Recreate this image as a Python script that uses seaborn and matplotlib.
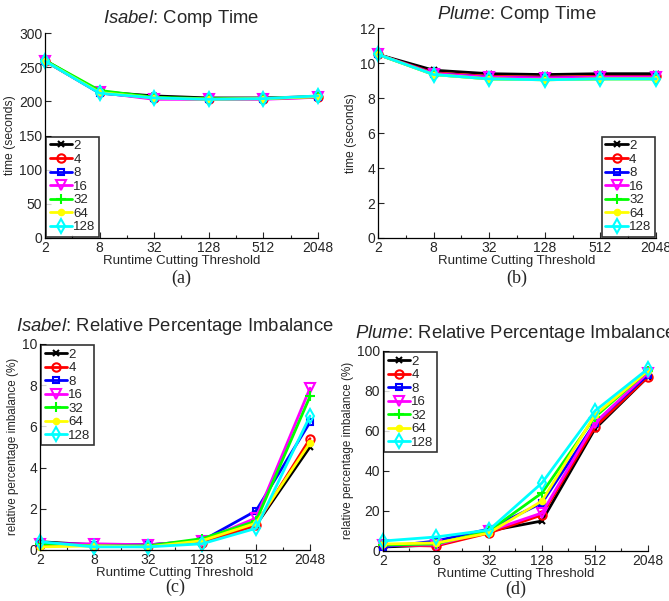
import numpy as np
import pandas as pd
import seaborn as sns
import matplotlib
matplotlib.use("Agg")
import matplotlib.pyplot as plt
from matplotlib.ticker import FixedLocator, NullFormatter
from matplotlib.transforms import offset_copy

thresholds = [2, 8, 32, 128, 512, 2048]
tick_labels = ["2", "8", "32", "128", "512", "2048"]
series_names = ["2", "4", "8", "16", "32", "64", "128"]

isabel_time = {
    "2":   [260, 214, 208, 205, 205, 207],
    "4":   [259, 213, 205, 203, 204, 206],
    "8":   [259, 212, 205, 203, 204, 207],
    "16":  [259, 213, 203, 203, 203, 206],
    "32":  [260, 216, 206, 204, 204, 207],
    "64":  [259, 213, 205, 203, 204, 207],
    "128": [259, 212, 205, 203, 204, 208],
}
plume_time = {
    "2":   [10.5, 9.60, 9.40, 9.35, 9.40, 9.40],
    "4":   [10.5, 9.45, 9.25, 9.20, 9.25, 9.25],
    "8":   [10.5, 9.40, 9.20, 9.15, 9.20, 9.20],
    "16":  [10.5, 9.40, 9.20, 9.15, 9.20, 9.20],
    "32":  [10.5, 9.35, 9.10, 9.05, 9.10, 9.10],
    "64":  [10.5, 9.35, 9.10, 9.05, 9.10, 9.10],
    "128": [10.5, 9.35, 9.10, 9.05, 9.10, 9.10],
}
isabel_imb = {
    "2":   [0.40, 0.25, 0.25, 0.40, 1.20, 5.0],
    "4":   [0.25, 0.20, 0.20, 0.35, 1.20, 5.4],
    "8":   [0.35, 0.25, 0.25, 0.45, 1.90, 6.2],
    "16":  [0.30, 0.30, 0.25, 0.45, 1.55, 7.85],
    "32":  [0.30, 0.20, 0.20, 0.55, 1.40, 7.45],
    "64":  [0.15, 0.20, 0.15, 0.45, 1.30, 5.2],
    "128": [0.40, 0.15, 0.15, 0.30, 1.05, 6.5],
}
plume_imb = {
    "2":   [2.0, 3.0, 10.0, 15.0, 61.0, 87.0],
    "4":   [3.0, 2.5, 9.0, 18.0, 62.0, 87.0],
    "8":   [2.0, 5.0, 11.0, 24.0, 64.0, 88.0],
    "16":  [3.0, 3.0, 10.0, 19.0, 64.0, 89.0],
    "32":  [3.0, 3.5, 10.0, 29.0, 67.0, 90.0],
    "64":  [3.5, 4.0, 9.0, 25.0, 68.0, 90.0],
    "128": [5.0, 7.0, 10.5, 34.0, 70.0, 91.0],
}

colors = {"2": "#000000", "4": "#ff0000", "8": "#0000ff", "16": "#ff00ff",
          "32": "#00ff00", "64": "#ffff00", "128": "#00ffff"}
markers = {"2": "x", "4": "o", "8": "s", "16": "v", "32": "+", "64": "o", "128": "d"}
filled = {"2": True, "4": False, "8": False, "16": False, "32": True, "64": True, "128": False}
msize = {"2": 5, "4": 6, "8": 5, "16": 7, "32": 7, "64": 4, "128": 7}

sns.set_style("ticks")
plt.rcParams["font.family"] = ["Liberation Sans", "DejaVu Sans"]
plt.rcParams["mathtext.fontset"] = "custom"
plt.rcParams["mathtext.it"] = "Liberation Sans:italic"
plt.rcParams["mathtext.rm"] = "Liberation Sans"
plt.rcParams["xtick.direction"] = "in"
plt.rcParams["ytick.direction"] = "in"

fig = plt.figure(figsize=(6.69, 6.01), dpi=100)

panels = [
    dict(data=isabel_time, pos=[0.0673, 0.604, 0.408, 0.341], ylim=(0, 300), yticks=[0, 50, 100, 150, 200, 250, 300],
         title=r"$\it{Isabel}$: Comp Time", ylabel="time (seconds)", leg="lower left",
         legbox=(0.0, 0.0), cap="(a)", capoff=40, ysize=8.7, tpad=7),
    dict(data=plume_time, pos=[0.565, 0.604, 0.4155, 0.349], ylim=(0, 12), yticks=[0, 2, 4, 6, 8, 10, 12],
         title=r"$\it{Plume}$: Comp Time", ylabel="time (seconds)", leg="lower right",
         legbox=(1.0, 0.0), cap="(b)", capoff=40, ysize=8.7, tpad=7),
    dict(data=isabel_imb, pos=[0.0598, 0.0849, 0.4036, 0.343], ylim=(0, 10), yticks=[0, 2, 4, 6, 8, 10],
         title=r"$\it{Isabel}$: Relative Percentage Imbalance", ylabel="relative percentage imbalance (%)",
         leg="upper left", legbox=(0.0, 1.0), cap="(c)", capoff=37, ysize=8.4, tpad=9),
    dict(data=plume_imb, pos=[0.5725, 0.0832, 0.396, 0.333], ylim=(0, 100), yticks=[0, 20, 40, 60, 80, 100],
         title=r"$\it{Plume}$: Relative Percentage Imbalance", ylabel="relative percentage imbalance (%)",
         leg="upper left", legbox=(0.0, 1.0), cap="(d)", capoff=38, ysize=8.4, tpad=9),
]

for p in panels:
    ax = fig.add_axes(p["pos"])
    for name in series_names:
        c = colors[name]
        sns.lineplot(x=thresholds, y=p["data"][name], ax=ax, color=c, linewidth=2,
                     marker=markers[name], markersize=msize[name],
                     markerfacecolor=(c if filled[name] else "none"),
                     markeredgecolor=c, markeredgewidth=1.5, label=name, clip_on=False)
    ax.set_xscale("log", base=2)
    ax.set_xlim(2, 2048)
    ax.xaxis.set_major_locator(FixedLocator(thresholds))
    ax.set_xticklabels(tick_labels)
    ax.xaxis.set_minor_locator(FixedLocator([4, 16, 64, 256, 1024]))
    ax.xaxis.set_minor_formatter(NullFormatter())
    ax.set_ylim(*p["ylim"])
    ax.set_yticks(p["yticks"])
    ax.tick_params(axis="both", which="major", labelsize=10, length=4, width=0.8, pad=2)
    ax.tick_params(axis="x", which="minor", length=2.5, width=0.8)
    for s in ["top", "right"]:
        ax.spines[s].set_visible(False)
    for s in ["left", "bottom"]:
        ax.spines[s].set_linewidth(0.9)
        ax.spines[s].set_color("black")
    ax.set_title(p["title"], fontsize=13.3, pad=p["tpad"])
    ax.set_ylabel(p["ylabel"], fontsize=p["ysize"], labelpad=2)
    ax.set_xlabel("Runtime Cutting Threshold", fontsize=9.5, labelpad=0)
    leg = ax.legend(loc=p["leg"], bbox_to_anchor=p["legbox"], fontsize=9.5, frameon=True, fancybox=False,
                    edgecolor="black", handlelength=1.7, handletextpad=0.1, labelspacing=0.1,
                    borderpad=0.25, borderaxespad=0.1)
    leg.get_frame().set_linewidth(1.2)
    tr = offset_copy(ax.transAxes, fig=fig, x=0, y=-p["capoff"], units="dots")
    ax.text(0.5, 0.0, p["cap"], transform=tr, ha="center", va="center",
            fontsize=13, family="Liberation Serif")

fig.savefig("out.png", dpi=100)
